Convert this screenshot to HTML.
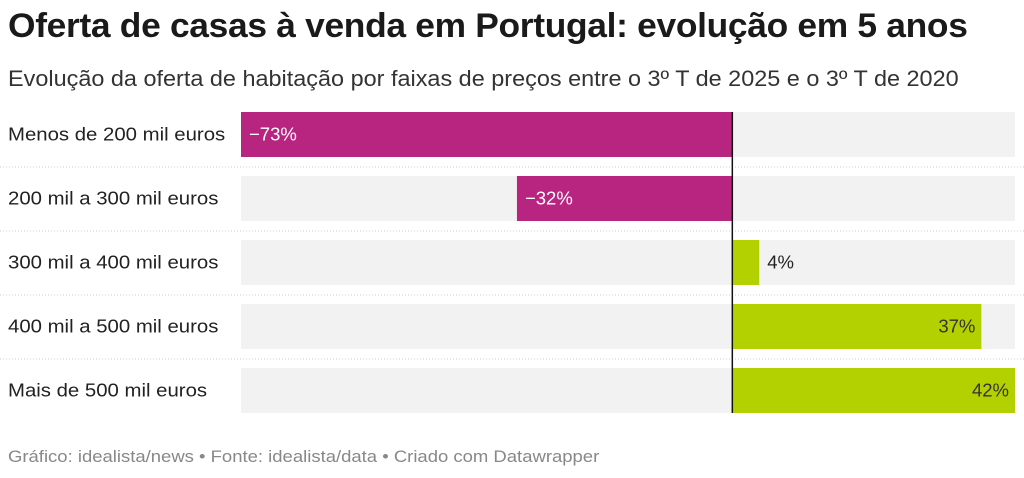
<!DOCTYPE html>
<html><head><meta charset="utf-8"><style>
body{margin:0;width:1024px;height:478px;background:#fff;font-family:"Liberation Sans",sans-serif;overflow:hidden;position:relative}
#title{position:absolute;left:8px;top:7px;font-size:34px;font-weight:bold;color:#1a1a1a;letter-spacing:-0.3px;transform:scaleX(1.04);transform-origin:left;white-space:nowrap}
#sub{position:absolute;left:8px;top:66px;font-size:22px;color:#333;transform:scaleX(1.065);transform-origin:left;white-space:nowrap}
#foot{position:absolute;left:8px;top:448px;font-size:16.5px;color:#888;transform:scaleX(1.12);transform-origin:left;white-space:nowrap}
</style></head><body>
<div id="title">Oferta de casas à venda em Portugal: evolução em 5 anos</div>
<div id="sub">Evolução da oferta de habitação por faixas de preços entre o 3º T de 2025 e o 3º T de 2020</div>
<svg id="chart" width="1024" height="478" style="position:absolute;left:0;top:0"></svg>
<div id="foot">Gráfico: idealista/news • Fonte: idealista/data • Criado com Datawrapper</div>
<script>
const categories=["Menos de 200 mil euros","200 mil a 300 mil euros","300 mil a 400 mil euros","400 mil a 500 mil euros","Mais de 500 mil euros"];
const values=[-73,-32,4,37,42];
const labels=["−73%","−32%","4%","37%","42%"];
const NS="http://www.w3.org/2000/svg",svg=document.getElementById('chart');
const x0=241,x1=1015,vmin=-73,vmax=42;
const x=v=>x0+(v-vmin)/(vmax-vmin)*(x1-x0);
const rowTop=i=>112+i*64,bh=45;
function mk(t,a){const e=document.createElementNS(NS,t);for(const k in a)e.setAttribute(k,a[k]);svg.appendChild(e);return e;}
function widen(t,f){const L=t.getComputedTextLength();t.setAttribute('textLength',L*f);t.setAttribute('lengthAdjust','spacingAndGlyphs');}
categories.forEach((c,i)=>{
  const y=rowTop(i),v=values[i];
  const bg=mk('rect',{x:x0,y:y,width:x1-x0,height:bh,fill:'#f2f2f2'});
  
  
  if(i<categories.length-1){const l=mk('line',{x1:0,x2:1024,y1:y+bh+10,y2:y+bh+10,stroke:'#ccc','stroke-dasharray':'1 2'});
    
    }
  const xa=Math.min(x(0),x(v)),w=Math.abs(x(v)-x(0));
  const b=mk('rect',{x:xa,y:y,width:w,height:bh,fill:v<0?'#b82580':'#b3d100'});
  
  
  const t=mk('text',{x:8,y:y+bh/2+6,'font-size':18.5,fill:'#222'});t.textContent=c;
  
  
  widen(t,1.1);
  let lx,anchor,col;
  if(v<0){lx=x(v)+8;anchor='start';col='#fff';}
  else if(w<60){lx=x(v)+8;anchor='start';col='#222';}
  else{lx=x(v)-6;anchor='end';col='#333';}
  const vt=mk('text',{x:lx,y:y+bh/2+6,'font-size':18.5,fill:col,'text-anchor':anchor});vt.textContent=labels[i];
  
  
});
const z=mk('line',{x1:x(0),x2:x(0),y1:112,y2:rowTop(4)+bh,stroke:'#111','stroke-width':1.5});


</script>
</body></html>
